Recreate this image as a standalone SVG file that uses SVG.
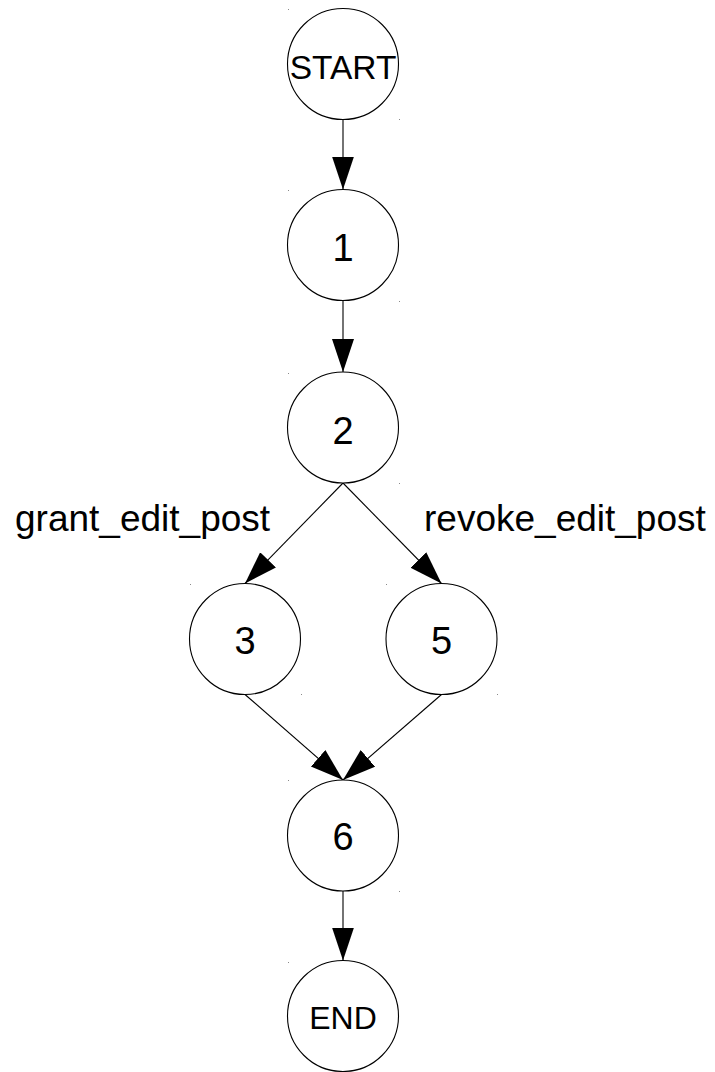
<svg xmlns="http://www.w3.org/2000/svg" width="715" height="1072" viewBox="0 0 715 1072">
  <style>
    .node circle { fill: #ffffff; stroke: #000000; stroke-width: 1.1; }
    .node text { font-family: "Liberation Sans", Arial, sans-serif; fill: #000000; text-anchor: middle; dominant-baseline: central; }
    .big { font-size: 38px; }
    .start { font-size: 33.5px; }
    .end { font-size: 32px; }
    .edge { stroke: #000000; stroke-width: 1.1; fill: none; marker-end: url(#arrow); }
    .label { font-family: "Liberation Sans", Arial, sans-serif; font-size: 37px; fill: #000000; }
    .tick { fill: #8a8a8a; }
  </style>
  <defs>
    <marker id="arrow" markerUnits="userSpaceOnUse" markerWidth="34" markerHeight="23" refX="33" refY="11" orient="auto">
      <path d="M0,0 L33,11 L0,22 Z" fill="#000000"/>
    </marker>
  </defs>

  <rect width="715" height="1072" fill="#ffffff"/>

  <!-- connectors -->
  <g id="edges">
    <line class="edge" x1="343" y1="119.5" x2="343" y2="189.5"/>
    <line class="edge" x1="343" y1="300.5" x2="343" y2="372"/>
    <line class="edge" x1="343" y1="483" x2="245" y2="583.5"/>
    <line class="edge" x1="343" y1="483" x2="441.5" y2="583.5"/>
    <line class="edge" x1="245" y1="694.5" x2="343" y2="780"/>
    <line class="edge" x1="441.5" y1="694.5" x2="343" y2="780"/>
    <line class="edge" x1="343" y1="891" x2="343" y2="960.5"/>
  </g>

  <!-- edge labels -->
  <g id="labels">
    <text class="label" x="15" y="531">grant_edit_post</text>
    <text class="label" x="424" y="531">revoke_edit_post</text>
  </g>

  <!-- nodes -->
  <g id="node-start" class="node">
    <circle cx="343" cy="64" r="55.5"/>
    <text class="start" x="343" y="67">START</text>
  </g>
  <g id="node-1" class="node">
    <circle cx="343" cy="245" r="55.5"/>
    <text class="big" x="343" y="248">1</text>
  </g>
  <g id="node-2" class="node">
    <circle cx="343" cy="427.5" r="55.5"/>
    <text class="big" x="343" y="431">2</text>
  </g>
  <g id="node-3" class="node">
    <circle cx="245" cy="639" r="55.5"/>
    <text class="big" x="245" y="641">3</text>
  </g>
  <g id="node-5" class="node">
    <circle cx="441.5" cy="639" r="55.5"/>
    <text class="big" x="441.5" y="641">5</text>
  </g>
  <g id="node-6" class="node">
    <circle cx="343" cy="835.5" r="55.5"/>
    <text class="big" x="343" y="837">6</text>
  </g>
  <g id="node-end" class="node">
    <circle cx="343" cy="1016" r="55.5"/>
    <text class="end" x="343" y="1018">END</text>
  </g>

  <!-- corner ticks of the node frames -->
  <g id="ticks">
    <rect class="tick" x="288" y="9" width="1" height="1"/>
    <rect class="tick" x="399" y="119" width="1" height="1"/>
    <rect class="tick" x="288" y="190" width="1" height="1"/>
    <rect class="tick" x="399" y="301" width="1" height="1"/>
    <rect class="tick" x="288" y="373" width="1" height="1"/>
    <rect class="tick" x="399" y="483" width="1" height="1"/>
    <rect class="tick" x="190" y="584" width="1" height="1"/>
    <rect class="tick" x="301" y="694" width="1" height="1"/>
    <rect class="tick" x="386" y="584" width="1" height="1"/>
    <rect class="tick" x="497" y="694" width="1" height="1"/>
    <rect class="tick" x="288" y="780" width="1" height="1"/>
    <rect class="tick" x="399" y="891" width="1" height="1"/>
    <rect class="tick" x="288" y="962" width="1" height="1"/>
  </g>
</svg>
